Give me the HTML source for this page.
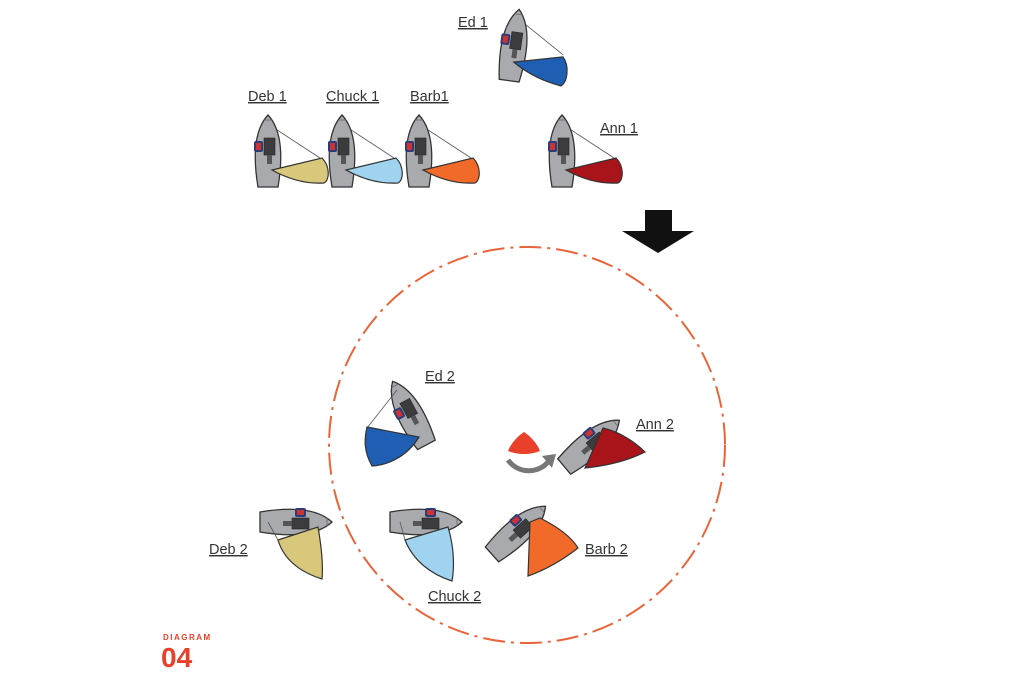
<!DOCTYPE html>
<html><head><meta charset="utf-8"><style>
html,body{margin:0;padding:0;background:#fff;}
svg{display:block;}
text{font-family:"Liberation Sans",sans-serif;}
</style></head><body>
<svg width="1024" height="683" viewBox="0 0 1024 683" xmlns="http://www.w3.org/2000/svg">
<defs>
<g id="hull">
<path d="M0,-37 C14,-22 15,5 10,35 L-10,35 C-15,5 -14,-22 0,-37 Z" fill="#a9aaad" stroke="#333" stroke-width="1.3"/>
<path d="M-4,-32 L4,-32" stroke="#666" stroke-width="0.8"/>
<rect x="-4" y="-14" width="11" height="17" fill="#3c3c3e" stroke="#222" stroke-width="0.6"/>
<rect x="-1" y="3" width="5" height="9" fill="#555"/>
<rect x="-14" y="-11" width="9" height="11" rx="2" fill="#2a3c7a"/>
<rect x="-12" y="-9" width="5" height="7" fill="#c33"/>
</g>
</defs>

<!-- top row -->
<g transform="translate(268,152)">
<line x1="0" y1="-28" x2="52" y2="6" stroke="#555" stroke-width="0.8"/>
<use href="#hull"/>
<path d="M4,18 L54,6 C62,14 62,28 56,31 C40,32 22,28 4,18 Z" fill="#d9c77c" stroke="#333" stroke-width="1.2"/>
</g>
<g transform="translate(342,152)">
<line x1="0" y1="-28" x2="52" y2="6" stroke="#555" stroke-width="0.8"/>
<use href="#hull"/>
<path d="M4,18 L54,6 C62,14 62,28 56,31 C40,32 22,28 4,18 Z" fill="#9fd3f0" stroke="#333" stroke-width="1.2"/>
</g>
<g transform="translate(419,152)">
<line x1="0" y1="-28" x2="52" y2="6" stroke="#555" stroke-width="0.8"/>
<use href="#hull"/>
<path d="M4,18 L54,6 C62,14 62,28 56,31 C40,32 22,28 4,18 Z" fill="#f26a2a" stroke="#333" stroke-width="1.2"/>
</g>
<g transform="translate(562,152)">
<line x1="0" y1="-28" x2="52" y2="6" stroke="#555" stroke-width="0.8"/>
<use href="#hull"/>
<path d="M4,18 L54,6 C62,14 62,28 56,31 C40,32 22,28 4,18 Z" fill="#a8141a" stroke="#333" stroke-width="1.2"/>
</g>
<g transform="translate(514,46) rotate(8)">
<line x1="0" y1="-28" x2="50" y2="2" stroke="#555" stroke-width="0.8"/>
<use href="#hull"/>
<path d="M2,16 L50,4 C58,12 58,28 52,33 C36,31 20,27 2,16 Z" fill="#1e5fb3" stroke="#333" stroke-width="1.2"/>
</g>

<g font-size="14.5" fill="#333" text-decoration="underline">
<text x="248" y="101">Deb 1</text>
<text x="326" y="101">Chuck 1</text>
<text x="410" y="101">Barb1</text>
<text x="600" y="133">Ann 1</text>
<text x="458" y="27">Ed 1</text>
<text x="425" y="381">Ed 2</text>
<text x="636" y="429">Ann 2</text>
<text x="585" y="554">Barb 2</text>
<text x="428" y="601">Chuck 2</text>
<text x="209" y="554">Deb 2</text>
</g>

<!-- arrow -->
<path d="M645,210 L672,210 L672,231 L694,231 L658,253 L622,231 L645,231 Z" fill="#111"/>

<!-- circle -->
<circle cx="527" cy="445" r="198" fill="none" stroke="#e8643a" stroke-width="2" stroke-dasharray="22,6,3,6"/>

<!-- bottom boats -->
<g transform="translate(410,414) rotate(-28)"><use href="#hull"/></g>
<line x1="397" y1="390" x2="367" y2="428" stroke="#555" stroke-width="0.8"/>
<path d="M367,427 L419,437 C408,455 390,465 372,466 C364,452 364,440 367,427 Z" fill="#1e5fb3" stroke="#333" stroke-width="1.2"/>

<g transform="translate(591,444) rotate(50)"><use href="#hull"/></g>
<path d="M585,468 L603,428 C620,432 635,442 645,452 C625,462 605,466 585,468 Z" fill="#a8141a" stroke="#333" stroke-width="1.2"/>

<g transform="translate(425,522) rotate(90)"><use href="#hull"/></g>
<line x1="400" y1="522" x2="405" y2="540" stroke="#555" stroke-width="0.8"/>
<path d="M405,540 L448,527 C455,550 454,570 452,581 C430,574 413,560 405,540 Z" fill="#9fd3f0" stroke="#333" stroke-width="1.2"/>

<g transform="translate(295,522) rotate(90)"><use href="#hull"/></g>
<line x1="268" y1="522" x2="278" y2="540" stroke="#555" stroke-width="0.8"/>
<path d="M278,540 L318,527 C322,550 323,568 322,579 C300,572 284,560 278,540 Z" fill="#d9c77c" stroke="#333" stroke-width="1.2"/>

<g transform="translate(518,531) rotate(48)"><use href="#hull"/></g>
<path d="M530,522 L540,518 C560,528 572,538 578,548 C560,562 545,570 528,576 Z" fill="#f26a2a" stroke="#333" stroke-width="1.2"/>

<!-- mark -->
<path d="M524,432 C530,436 537,443 540,451 C530,455 518,455 508,451 C511,443 518,436 524,432 Z" fill="#e8402a"/>
<path d="M508,460 C518,474 538,474 548,462" fill="none" stroke="#777" stroke-width="5"/>
<path d="M542,456 L556,454 L552,468 Z" fill="#777"/>

<text x="163" y="640" font-size="8" font-weight="bold" fill="#e8402a" letter-spacing="1.5">DIAGRAM</text>
<text x="161" y="667" font-size="28" font-weight="bold" fill="#e8402a">04</text>
</svg>
</body></html>
